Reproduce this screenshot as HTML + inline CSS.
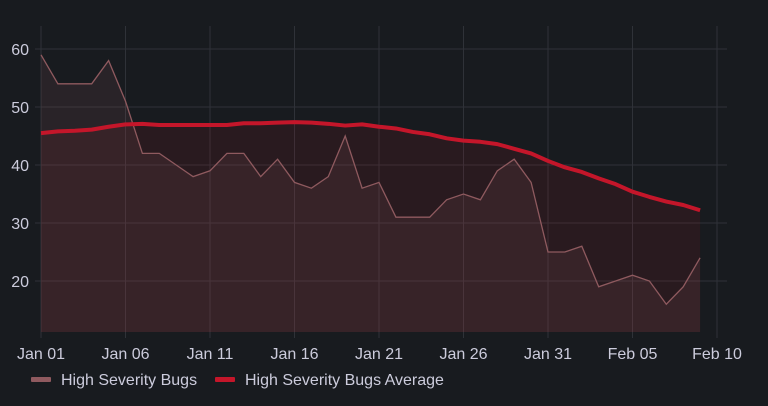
<!DOCTYPE html>
<html><head><meta charset="utf-8"><style>
body{margin:0;background:#181b1f;width:768px;height:401px;overflow:hidden;font-family:"Liberation Sans",sans-serif}
svg text{font-family:"Liberation Sans",sans-serif;fill:#ccccdc;font-size:16px}
</style></head><body>
<svg id="c" width="768" height="401"></svg>
<script>
const bugs=[59,54,54,54,58,51,42,42,40,38,39,42,42,38,41,37,36,38,45,36,37,31,31,31,34,35,34,39,41,37,25,25,26,19,20,21,20,16,19,24];
const avg=[45.5,45.8,45.9,46.1,46.6,47,47.1,46.9,46.9,46.9,46.9,46.9,47.2,47.2,47.3,47.4,47.3,47.1,46.8,47.0,46.6,46.3,45.7,45.3,44.6,44.2,44.0,43.6,42.8,42.0,40.7,39.6,38.8,37.7,36.7,35.4,34.5,33.7,33.1,32.2];
const yTicks=[20,30,40,50,60];
const xTickLabels=["Jan 01","Jan 06","Jan 11","Jan 16","Jan 21","Jan 26","Jan 31","Feb 05","Feb 10"];
const xTickDays=[0,5,10,15,20,25,30,35,40];
const NS="http://www.w3.org/2000/svg",svg=document.getElementById('c');
const x=d=>41+d*16.9, y=v=>281-(v-20)*5.8, base=332;
function mk(t,a){const e=document.createElementNS(NS,t);for(const k in a)e.setAttribute(k,a[k]);svg.appendChild(e);return e;}
yTicks.forEach(v=>{const l=mk('line',{x1:35,x2:727,y1:y(v),y2:y(v),stroke:'#2f3238'});


const t=mk('text',{x:29,y:y(v)+6,'text-anchor':'end'});t.textContent=v;

});
xTickDays.forEach((d,i)=>{const l=mk('line',{x1:x(d),x2:x(d),y1:26,y2:338,stroke:'#2f3238'});


const t=mk('text',{x:x(d),y:359,'text-anchor':'middle'});t.textContent=xTickLabels[i];

});
function pts(a){return a.map((v,i)=>x(i)+','+y(v)).join(' ');}
function area(a){return 'M'+x(0)+','+base+' L'+pts(a)+' L'+x(a.length-1)+','+base+' Z';}
const fa=mk('path',{d:area(avg),fill:'rgba(196,22,42,0.1)'});


const fb=mk('path',{d:area(bugs),fill:'rgba(143,90,95,0.15)'});


const lb=mk('polyline',{points:pts(bugs),fill:'none',stroke:'#8f5a5f','stroke-width':1.3});


const la=mk('polyline',{points:pts(avg),fill:'none',stroke:'#c4162a','stroke-width':4,'stroke-linejoin':'round'});


const s1=mk('rect',{x:31,y:377,width:20,height:5,rx:1,fill:'#8f5a5f'});


const t1=mk('text',{x:61,y:385});t1.textContent='High Severity Bugs';


const s2=mk('rect',{x:215,y:377,width:20,height:5,rx:1,fill:'#c4162a'});


const t2=mk('text',{x:245,y:385});t2.textContent='High Severity Bugs Average';


</script>
</body></html>
